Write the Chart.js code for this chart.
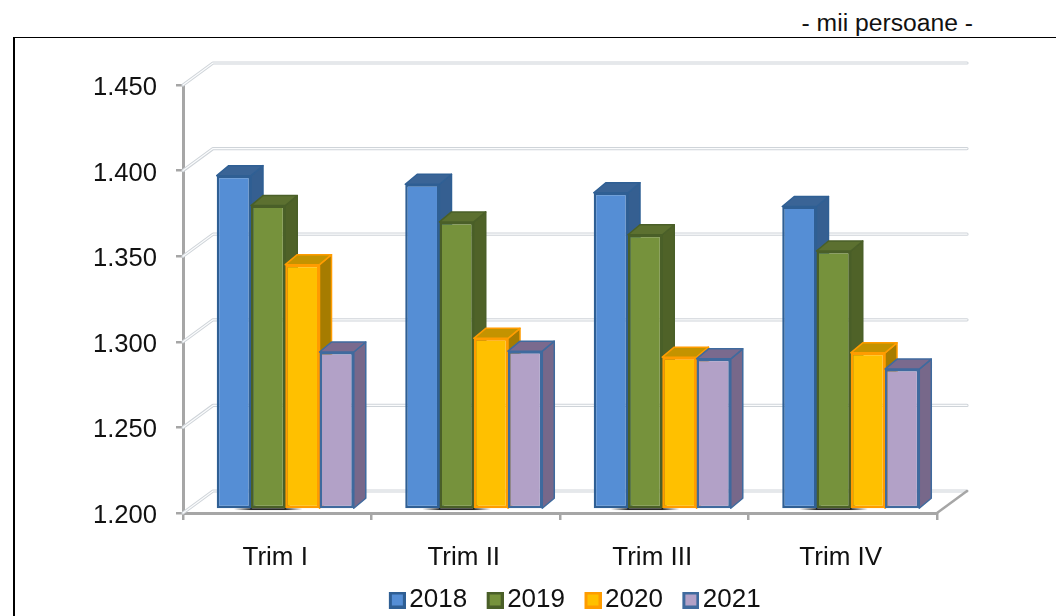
<!DOCTYPE html>
<html><head><meta charset="utf-8">
<style>
html,body{margin:0;padding:0;background:#fff;width:1056px;height:616px;overflow:hidden}
#frame{position:absolute;left:13px;top:37px;right:0;bottom:0;border-top:1.5px solid #000;border-left:2px solid #000}
#unit{position:absolute;right:83px;top:9px;font:24.7px "Liberation Sans",Arial,sans-serif;color:#111;line-height:28px;white-space:nowrap}
#c{position:absolute;left:0;top:0}
</style>
<script src="https://cdn.jsdelivr.net/npm/chart.js@4/dist/chart.umd.min.js"></script>
</head><body>
<div id="frame"></div>
<div id="unit">- mii persoane -</div>
<canvas id="c" width="1056" height="616"></canvas>
<script>
const categories = ["Trim I","Trim II","Trim III","Trim IV"];
const seriesNames = ["2018","2019","2020","2021"];
const values2018 = [1395,1390,1385,1377];
const values2019 = [1377.5,1368,1360.5,1351];
const values2020 = [1343,1300,1289,1291.5];
const values2021 = [1292,1292.5,1288,1282];
const yTickValues = [1200,1250,1300,1350,1400,1450];
const baseValue = 1200;
const fills = ["#558ed5","#76923c","#ffc000","#b2a1c7"];
const borders = ["#2f5f94","#4a5f28","#ff9c00","#3f6a9e"];
const sides = ["#355f91","#4f6228","#a67c00","#77688a"];
const tops = ["#3a6496","#5c7030","#c49300","#7a6a8e"];
const FONT = '"Liberation Sans",Arial,sans-serif';
const AXIS = "#a6a6a6";
// 3D projection
const WALL = {dx:30,dy:-22}, BAR = {dx:12,dy:-10}, SHIFT = {x:8,y:-3.5};

function legendSwatch(i){
  const s=document.createElement("canvas"); s.width=21; s.height=17;
  const g=s.getContext("2d");
  g.fillStyle=borders[i]; g.fillRect(4,0,17,17);
  g.fillStyle=fills[i]; g.fillRect(7,3,11,11);
  return s;
}
function poly(ctx,pts,fill,stroke){
  ctx.beginPath(); pts.forEach((p,i)=>i?ctx.lineTo(p[0],p[1]):ctx.moveTo(p[0],p[1])); ctx.closePath();
  ctx.fillStyle=fill; ctx.fill(); ctx.strokeStyle=stroke; ctx.lineWidth=1.5; ctx.lineJoin="round"; ctx.stroke();
}
const threeD = {
  id:"threeD",
  afterLayout(chart){
    const l=chart.legend;
    l.left+=3; l.right+=3; l.top-=13; l.bottom-=13;
  },
  beforeDatasetsDraw(chart){
    const {ctx,chartArea:a,scales:{y}}=chart;
    ctx.save(); ctx.lineCap="round"; ctx.lineJoin="round";
    yTickValues.forEach(v=>{
      const py=y.getPixelForValue(v);
      const path=()=>{ctx.beginPath();ctx.moveTo(a.left,py);ctx.lineTo(a.left+WALL.dx,py+WALL.dy);ctx.lineTo(a.right+WALL.dx,py+WALL.dy);};
      path();ctx.strokeStyle="#cfd4d9";ctx.lineWidth=3.2;ctx.stroke();
      path();ctx.strokeStyle="#fbfcfd";ctx.lineWidth=1.2;ctx.stroke();
    });
    // floor right edge
    ctx.beginPath();ctx.moveTo(a.right,a.bottom);ctx.lineTo(a.right+WALL.dx,a.bottom+WALL.dy);
    ctx.strokeStyle=AXIS;ctx.lineWidth=2.5;ctx.stroke();
    ctx.restore();
    // bars left to right, each one's front covering the previous one's side
    chart.data.datasets.forEach((d,i)=>{
      const meta=chart.getDatasetMeta(i);
      ctx.save(); ctx.translate(SHIFT.x,SHIFT.y);
      meta.data.forEach(b=>{
        const p=b.getProps(["x","y","base","width"],true);
        const l=p.x-p.width/2, r=p.x+p.width/2;
        poly(ctx,[[r,p.y],[r+BAR.dx,p.y+BAR.dy],[r+BAR.dx,p.base+BAR.dy],[r,p.base]],sides[i],borders[i]);
        poly(ctx,[[l,p.y],[l+BAR.dx,p.y+BAR.dy],[r+BAR.dx,p.y+BAR.dy],[r,p.y]],tops[i],borders[i]);
      });
      meta.controller.draw();
      ctx.restore();
    });
    // contact shadow under the bars
    const m0=chart.getDatasetMeta(0), m2=chart.getDatasetMeta(2);
    m0.data.forEach((b,k)=>{
      const x0=b.x+SHIFT.x, x1=m2.data[k].x+SHIFT.x, yb=b.base+SHIFT.y;
      const g=ctx.createLinearGradient(x0,0,x1,0);
      g.addColorStop(0,"rgba(0,0,0,0)");g.addColorStop(.25,"rgba(0,0,0,.85)");g.addColorStop(.75,"rgba(0,0,0,.85)");g.addColorStop(1,"rgba(0,0,0,0)");
      ctx.fillStyle=g;ctx.fillRect(x0,yb,x1-x0,1.8);
    });
    return false;
  }
};
new Chart(document.getElementById("c"),{
  type:"bar",
  data:{labels:categories,datasets:[values2018,values2019,values2020,values2021].map((d,i)=>({
    label:seriesNames[i],data:d,base:baseValue,backgroundColor:fills[i],borderColor:borders[i],borderWidth:2.5,
    borderSkipped:false,clip:false,barPercentage:1,categoryPercentage:0.727
  }))},
  plugins:[threeD],
  options:{
    responsive:false,animation:false,
    layout:{padding:{left:93,right:0,top:85,bottom:-20}},
    plugins:{
      title:{display:false},tooltip:{enabled:false},
      legend:{position:"bottom",labels:{
        usePointStyle:true,pointStyleWidth:2,boxHeight:16,boxWidth:2,padding:25,
        font:{family:FONT,size:26},color:"#111",
        generateLabels:c=>c.data.datasets.map((d,i)=>({text:d.label,pointStyle:legendSwatch(i),datasetIndex:i,fontColor:"#111",lineWidth:0,hidden:false}))
      }}
    },
    scales:{
      x:{
        afterFit:s=>{s.height=62;},
        grid:{drawOnChartArea:false,drawTicks:true,tickLength:7,color:AXIS,lineWidth:2.5},
        border:{display:true,color:AXIS,width:3},
        ticks:{font:{family:FONT,size:26},color:"#111",padding:22,maxRotation:0,labelOffset:-2}
      },
      y:{
        min:1200,max:1450,
        afterFit:s=>{s.width=90;},
        afterBuildTicks:s=>{s.ticks=yTickValues.map(v=>({value:v}));},
        grid:{drawOnChartArea:false,drawTicks:true,tickLength:7,color:AXIS,lineWidth:2.5},
        border:{display:true,color:AXIS,width:3},
        ticks:{font:{family:FONT,size:25.6},color:"#111",padding:19,labelOffset:3,callback:v=>String(v).replace(/(\d)(\d{3})$/,"$1.$2")}
      },
      yRight:{
        position:"right",display:true,
        afterFit:s=>{s.width=119;},
        grid:{display:false},border:{display:false},ticks:{display:false}
      }
    }
  }
});
</script>
</body></html>
